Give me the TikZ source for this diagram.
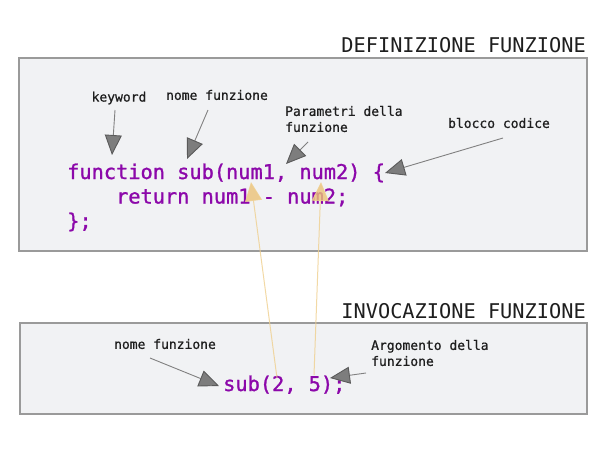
\documentclass[tikz,border=0pt]{standalone}
\usepackage{fontspec}
\setmonofont{DejaVu Sans Mono}
\newfontfamily\codefont[FakeBold=1.2]{DejaVu Sans Mono}
\newfontfamily\lblfont[FakeBold=0.8]{DejaVu Sans Mono}
\usetikzlibrary{arrows.meta}
\definecolor{boxfill}{HTML}{F1F2F4}
\definecolor{boxline}{HTML}{9A9A9A}
\definecolor{codepurple}{RGB}{140,8,170}
\definecolor{titlecol}{HTML}{1E1E1E}
\definecolor{arrgray}{HTML}{808080}
\definecolor{headgray}{HTML}{7D7D7D}
\definecolor{headline}{HTML}{5A5A5A}
\definecolor{yline}{HTML}{EFCF8E}
\definecolor{yhead}{HTML}{EBC277}
\tikzset{
  panel/.style={draw=boxline, fill=boxfill, line width=1.2pt},
  title/.style={font=\ttfamily\fontsize{20.3}{24}\selectfont, text=titlecol, inner sep=0pt, anchor=base east},
  code/.style={font=\codefont\fontsize{20.3}{24}\selectfont, text=codepurple, inner sep=0pt, anchor=base west},
  lbl/.style={font=\lblfont\fontsize{13}{16}\selectfont, text=titlecol, inner sep=0pt},
  garrow/.style={draw=arrgray, line width=0.9pt,
    -{Triangle[length=20pt,width=17pt,fill=headgray,color=headline]}},
  yarrow/.style={draw=yline, line width=1pt, opacity=0.8,
    -{Triangle[length=19pt,width=17pt,fill=yhead]}},
}
\begin{document}
\begin{tikzpicture}[x=1pt,y=-1pt]
\useasboundingbox (0,0) rectangle (612,461);
% panels
\draw[panel] (19,58) rectangle (587,251);
\draw[panel] (20,323) rectangle (587,414);
% titles
\node[title] (t1) at (586,52) {DEFINIZIONE FUNZIONE};
\node[title] (t2) at (586,318) {INVOCAZIONE FUNZIONE};
% code
\node[code] (c1) at (67,179) {function sub(num1, num2) \{};
\node[code] (c2) at (67,203.5) {\ \ \ \ return num1 - num2;};
\node[code] (c3) at (67,228) {\};};
\node[code] (call) at (223,391) {sub(2, 5);};
% labels
\node[lbl] (kw) at (119,98) {keyword};
\node[lbl] (nf1) at (217,95) {nome funzione};
\node[lbl, align=left, anchor=west] (par) at (285,119) {Parametri della\\funzione};
\node[lbl] (blk) at (499,123) {blocco codice};
\node[lbl] (nf2) at (165,344) {nome funzione};
\node[lbl, align=left, anchor=west] (arg) at (371,353) {Argomento della\\funzione};
% arrow endpoints
\coordinate (kwS) at (115,110);
\coordinate (kwE) at (112,155);
\coordinate (nf1S) at (208,110);
\coordinate (nf1E) at (187,159);
\coordinate (parS) at (308,142);
\coordinate (parE) at (286,164);
\coordinate (blkS) at (503,138);
\coordinate (blkE) at (385,173);
\coordinate (nf2S) at (150,358);
\coordinate (nf2E) at (219,386);
\coordinate (argS) at (366,373);
\coordinate (argE) at (330,378);
\coordinate (y1S) at (277,378);
\coordinate (y1E) at (251,182);
\coordinate (y2S) at (314,375);
\coordinate (y2E) at (321,182);
% gray arrows
\draw[garrow] (kwS) -- (kwE);
\draw[garrow] (nf1S) -- (nf1E);
\draw[garrow] (parS) -- (parE);
\draw[garrow] (blkS) -- (blkE);
\draw[garrow] (nf2S) -- (nf2E);
\draw[garrow] (argS) -- (argE);
% yellow arrows
\draw[yarrow] (y1S) -- (y1E);
\draw[yarrow] (y2S) -- (y2E);
\end{tikzpicture}
\end{document}
